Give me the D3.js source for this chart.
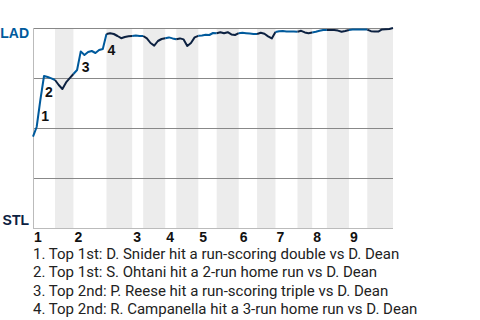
<!DOCTYPE html>
<meta charset="utf-8">
<style>
body { margin: 0; background: #fff; }
text { font-family: "Liberation Sans", Arial, sans-serif; }
.lbl { font-weight: bold; font-size: 14px; fill: #111; }
.team { font-weight: bold; font-size: 14px; }
.note { font-family: Roboto, sans-serif; font-size: 15px; fill: #222; }
</style>
<body>
<script src="https://cdn.jsdelivr.net/npm/d3@7"></script>
<script>
// LAD win probability after each play (index 0 = first pitch)
var winProb = [
  0.457, 0.505, 0.640, 0.760, 0.755, 0.748, 0.740,
  0.715, 0.695, 0.728, 0.749, 0.770,
  0.790, 0.883, 0.865, 0.880, 0.885, 0.875, 0.890, 0.895, 0.970,
  0.974, 0.970, 0.960, 0.949, 0.955, 0.959, 0.960,
  0.962, 0.960, 0.960,
  0.948, 0.925, 0.912, 0.935, 0.945, 0.949,
  0.953, 0.948, 0.944,
  0.948, 0.943, 0.910, 0.925, 0.953, 0.961,
  0.963, 0.966, 0.965, 0.975, 0.974,
  0.979, 0.974, 0.979, 0.968, 0.965, 0.974,
  0.976, 0.974, 0.972, 0.970, 0.970,
  0.976, 0.971, 0.958, 0.948, 0.980,
  0.984, 0.985, 0.983, 0.982, 0.982, 0.981,
  0.986, 0.978, 0.974, 0.978,
  0.981, 0.986, 0.990, 0.990,
  0.990, 0.990, 0.987, 0.981, 0.985, 0.990,
  0.992, 0.992, 0.992, 0.992, 0.992,
  0.984, 0.982, 0.982, 0.993, 0.994, 0.995, 1.000
];
// plays in each half inning: 1T, 1B, 2T, 2B ... 9B
var playsPerHalf = [6, 5, 9, 7, 3, 6, 3, 6, 5, 6, 5, 5, 6, 4, 4, 6, 5, 7];
var innings = ["1", "2", "3", "4", "5", "6", "7", "8", "9"];
var teams = ["LAD", "STL"];
var scoringPlays = [2, 3, 13, 20];
var scoringNotes = [
  "1. Top 1st: D. Snider hit a run-scoring double vs D. Dean",
  "2. Top 1st: S. Ohtani hit a 2-run home run vs D. Dean",
  "3. Top 2nd: P. Reese hit a run-scoring triple vs D. Dean",
  "4. Top 2nd: R. Campanella hit a 3-run home run vs D. Dean"
];

var ladBlue = "#005a9c", stlNavy = "#0c2141";
var margin = {top: 28, left: 33},
    width = 360, height = 200;

var svg = d3.select("body").append("svg")
    .attr("width", 480)
    .attr("height", 320)
  .append("g")
    .attr("transform", "translate(" + margin.left + "," + margin.top + ")");

var x = d3.scaleLinear().domain([0, winProb.length - 1]).range([0, width]);
var y = d3.scaleLinear().domain([0, 1]).range([height, 0]);

// half inning ranges as [first point, last point]
var halves = [];
var s = 0;
playsPerHalf.forEach(function(n, i) {
  halves.push({start: s, end: s + n, bottom: i % 2 == 1, inning: Math.floor(i / 2)});
  s += n;
});

// shaded bottom halves
svg.selectAll(".band")
    .data(halves.filter(function(h) { return h.bottom; }))
  .enter().append("rect")
    .attr("x", function(h) { return x(h.start); })
    .attr("width", function(h) { return x(h.end) - x(h.start); })
    .attr("y", 0)
    .attr("height", height)
    .attr("fill", "#ececec");

// grid lines
svg.selectAll(".grid")
    .data([0.25, 0.5, 0.75, 1])
  .enter().append("line")
    .attr("x1", 0).attr("x2", width)
    .attr("y1", function(d) { return y(d) + 0.5; })
    .attr("y2", function(d) { return y(d) + 0.5; })
    .attr("stroke", "#888")
    .attr("stroke-width", 1.2);

svg.append("line")
    .attr("x1", 0).attr("x2", width)
    .attr("y1", height + 0.5).attr("y2", height + 0.5)
    .attr("stroke", "#bbb");
svg.append("line")
    .attr("x1", 0.5).attr("x2", 0.5)
    .attr("y1", 0).attr("y2", height + 1)
    .attr("stroke", "#bbb");

// win probability line, one piece per half inning
var line = d3.line()
    .x(function(d) { return x(d.i); })
    .y(function(d) { return y(d.p); });

svg.selectAll(".wp")
    .data(halves)
  .enter().append("path")
    .attr("fill", "none")
    .attr("stroke", function(h) { return h.bottom ? stlNavy : ladBlue; })
    .attr("stroke-width", 2)
    .attr("stroke-linejoin", "round")
    .attr("d", function(h) {
      var pts = [];
      for (var i = h.start; i <= h.end; i++) pts.push({i: i, p: winProb[i]});
      return line(pts);
    });

// scoring play markers
svg.selectAll(".mark")
    .data(scoringPlays)
  .enter().append("text")
    .attr("class", "lbl")
    .attr("x", function(d) { return x(d) + 1; })
    .attr("y", function(d) { return y(winProb[d]) + 21; })
    .text(function(d, i) { return i + 1; });

// inning labels
svg.selectAll(".inn")
    .data(halves.filter(function(h) { return !h.bottom; }))
  .enter().append("text")
    .attr("class", "lbl")
    .attr("x", function(h) { return x(h.start) + 1; })
    .attr("y", height + 14)
    .text(function(h) { return innings[h.inning]; });

// team labels
svg.selectAll(".team")
    .data(teams)
  .enter().append("text")
    .attr("class", "team")
    .attr("x", -4)
    .attr("y", function(d, i) { return y(1 - i) + (i == 0 ? 10 : -3); })
    .attr("text-anchor", "end")
    .attr("fill", function(d, i) { return i == 0 ? ladBlue : stlNavy; })
    .text(function(d) { return d; });

// notes
svg.selectAll(".note")
    .data(scoringNotes)
  .enter().append("text")
    .attr("class", "note")
    .attr("x", 0)
    .attr("y", function(d, i) { return height + 30.5 + i * 18.5; })
    .text(function(d) { return d; });
</script>
